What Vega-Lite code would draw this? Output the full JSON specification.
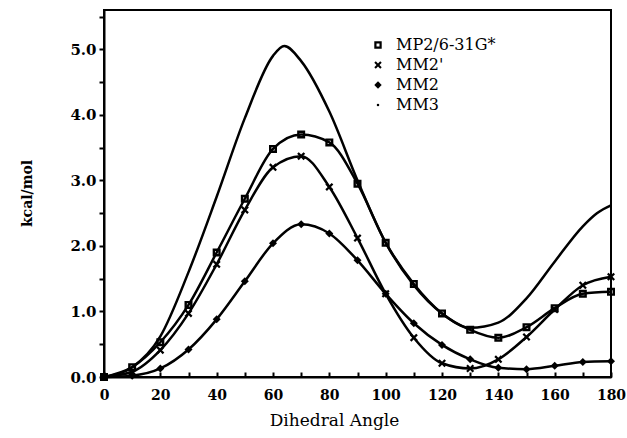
{
  "$schema": "https://vega.github.io/schema/vega-lite/v6.json",
  "width": 507,
  "height": 367,
  "autosize": {"type": "none"},
  "padding": {"left": 104, "top": 10, "right": 16, "bottom": 61},
  "background": "white",
  "config": {
    "view": {"stroke": "black", "strokeWidth": 2},
    "font": "DejaVu Serif",
    "axis": {"grid": false, "domainColor": "black", "domainWidth": 2, "tickColor": "black", "tickWidth": 2, "labelColor": "black", "titleColor": "black"}
  },
  "data": {
    "values": [
      {"series": "MP2/6-31G*", "angle": 0, "energy": 0},
      {"series": "MP2/6-31G*", "angle": 10, "energy": 0.15},
      {"series": "MP2/6-31G*", "angle": 20, "energy": 0.53},
      {"series": "MP2/6-31G*", "angle": 30, "energy": 1.1},
      {"series": "MP2/6-31G*", "angle": 40, "energy": 1.9},
      {"series": "MP2/6-31G*", "angle": 50, "energy": 2.72},
      {"series": "MP2/6-31G*", "angle": 60, "energy": 3.48},
      {"series": "MP2/6-31G*", "angle": 70, "energy": 3.7},
      {"series": "MP2/6-31G*", "angle": 80, "energy": 3.58},
      {"series": "MP2/6-31G*", "angle": 90, "energy": 2.95},
      {"series": "MP2/6-31G*", "angle": 100, "energy": 2.05},
      {"series": "MP2/6-31G*", "angle": 110, "energy": 1.42},
      {"series": "MP2/6-31G*", "angle": 120, "energy": 0.97},
      {"series": "MP2/6-31G*", "angle": 130, "energy": 0.72},
      {"series": "MP2/6-31G*", "angle": 140, "energy": 0.6},
      {"series": "MP2/6-31G*", "angle": 150, "energy": 0.76},
      {"series": "MP2/6-31G*", "angle": 160, "energy": 1.05},
      {"series": "MP2/6-31G*", "angle": 170, "energy": 1.27},
      {"series": "MP2/6-31G*", "angle": 180, "energy": 1.3},
      {"series": "MM2'", "angle": 0, "energy": 0},
      {"series": "MM2'", "angle": 10, "energy": 0.08},
      {"series": "MM2'", "angle": 20, "energy": 0.41},
      {"series": "MM2'", "angle": 30, "energy": 0.97},
      {"series": "MM2'", "angle": 40, "energy": 1.72},
      {"series": "MM2'", "angle": 50, "energy": 2.55},
      {"series": "MM2'", "angle": 60, "energy": 3.2},
      {"series": "MM2'", "angle": 70, "energy": 3.37},
      {"series": "MM2'", "angle": 80, "energy": 2.9},
      {"series": "MM2'", "angle": 90, "energy": 2.12},
      {"series": "MM2'", "angle": 100, "energy": 1.27},
      {"series": "MM2'", "angle": 110, "energy": 0.6},
      {"series": "MM2'", "angle": 120, "energy": 0.21},
      {"series": "MM2'", "angle": 130, "energy": 0.13},
      {"series": "MM2'", "angle": 140, "energy": 0.27},
      {"series": "MM2'", "angle": 150, "energy": 0.61},
      {"series": "MM2'", "angle": 160, "energy": 1.03},
      {"series": "MM2'", "angle": 170, "energy": 1.4},
      {"series": "MM2'", "angle": 180, "energy": 1.53},
      {"series": "MM2", "angle": 0, "energy": 0},
      {"series": "MM2", "angle": 10, "energy": 0.02},
      {"series": "MM2", "angle": 20, "energy": 0.13},
      {"series": "MM2", "angle": 30, "energy": 0.42},
      {"series": "MM2", "angle": 40, "energy": 0.88},
      {"series": "MM2", "angle": 50, "energy": 1.46},
      {"series": "MM2", "angle": 60, "energy": 2.04},
      {"series": "MM2", "angle": 70, "energy": 2.33},
      {"series": "MM2", "angle": 80, "energy": 2.19},
      {"series": "MM2", "angle": 90, "energy": 1.78},
      {"series": "MM2", "angle": 100, "energy": 1.27},
      {"series": "MM2", "angle": 110, "energy": 0.82},
      {"series": "MM2", "angle": 120, "energy": 0.49},
      {"series": "MM2", "angle": 130, "energy": 0.27},
      {"series": "MM2", "angle": 140, "energy": 0.14},
      {"series": "MM2", "angle": 150, "energy": 0.12},
      {"series": "MM2", "angle": 160, "energy": 0.17},
      {"series": "MM2", "angle": 170, "energy": 0.23},
      {"series": "MM2", "angle": 180, "energy": 0.24},
      {"series": "MM3", "angle": 0, "energy": 0},
      {"series": "MM3", "angle": 10, "energy": 0.15},
      {"series": "MM3", "angle": 20, "energy": 0.62},
      {"series": "MM3", "angle": 30, "energy": 1.6},
      {"series": "MM3", "angle": 40, "energy": 2.75},
      {"series": "MM3", "angle": 50, "energy": 3.95},
      {"series": "MM3", "angle": 60, "energy": 4.9},
      {"series": "MM3", "angle": 64, "energy": 5.05},
      {"series": "MM3", "angle": 70, "energy": 4.82},
      {"series": "MM3", "angle": 80, "energy": 4.05},
      {"series": "MM3", "angle": 90, "energy": 3.0},
      {"series": "MM3", "angle": 100, "energy": 2.05},
      {"series": "MM3", "angle": 110, "energy": 1.4},
      {"series": "MM3", "angle": 120, "energy": 0.97},
      {"series": "MM3", "angle": 130, "energy": 0.75},
      {"series": "MM3", "angle": 140, "energy": 0.83},
      {"series": "MM3", "angle": 150, "energy": 1.2},
      {"series": "MM3", "angle": 160, "energy": 1.76},
      {"series": "MM3", "angle": 170, "energy": 2.3},
      {"series": "MM3", "angle": 175, "energy": 2.5},
      {"series": "MM3", "angle": 180, "energy": 2.62}
    ]
  },
  "encoding": {
    "x": {
      "field": "angle", "type": "quantitative",
      "scale": {"domain": [0, 180], "nice": false, "zero": false},
      "axis": {
        "title": "Dihedral Angle",
        "titleFont": "DejaVu Serif", "titleFontSize": 17, "titleFontWeight": "normal",
        "titleX": 230, "titleY": 48, "titleBaseline": "alphabetic",
        "values": [0, 10, 20, 30, 40, 50, 60, 70, 80, 90, 100, 110, 120, 130, 140, 150, 160, 170, 180],
        "labelExpr": "datum.value % 20 == 0 ? datum.label : ''",
        "labelFont": "DejaVu Serif", "labelFontSize": 14, "labelFontWeight": "bold",
        "tickSize": -5, "labelPadding": 16, "labelFlush": false
      }
    },
    "y": {
      "field": "energy", "type": "quantitative",
      "scale": {"domain": [0, 5.6], "nice": false},
      "axis": {
        "title": "kcal/mol",
        "titleFont": "DejaVu Serif", "titleFontSize": 14, "titleFontWeight": "bold",
        "titleX": -70, "titleY": 183, "titleAngle": -90, "titleAnchor": "middle",
        "values": [0, 0.5, 1, 1.5, 2, 2.5, 3, 3.5, 4, 4.5, 5, 5.5],
        "labelExpr": "datum.value % 1 == 0 ? format(datum.value, '.1f') : ''",
        "labelFont": "DejaVu Serif", "labelFontSize": 15, "labelFontWeight": "bold",
        "tickSize": 5, "labelPadding": 3, "labelFlush": false
      }
    }
  },
  "layer": [
    {
      "mark": {"type": "line", "color": "black", "strokeWidth": 2.5, "interpolate": "monotone"},
      "encoding": {"detail": {"field": "series"}}
    },
    {
      "transform": [{"filter": "datum.series != 'MM3'"}],
      "mark": {"type": "point", "filled": true, "color": "black", "size": 64, "strokeWidth": 0, "opacity": 1},
      "encoding": {
        "shape": {
          "field": "series", "type": "nominal",
          "scale": {
            "domain": ["MP2/6-31G*", "MM2'", "MM2", "MM3"],
            "range": [
              "M-1,-1H1V1H-1Z M-0.4,-0.4V0.4H0.4V-0.4Z",
              "M-1,-0.6L-0.6,-1L0,-0.4L0.6,-1L1,-0.6L0.4,0L1,0.6L0.6,1L0,0.4L-0.6,1L-1,0.6L-0.4,0Z",
              "diamond",
              "M-0.3,-0.3H0.3V0.3H-0.3Z"
            ]
          },
          "legend": {
            "title": null, "orient": "none", "legendX": 266, "legendY": 27,
            "labelFont": "DejaVu Serif", "labelFontSize": 16, "labelColor": "black",
            "symbolSize": 55, "symbolFillColor": "black", "symbolStrokeWidth": 0,
            "rowPadding": 4, "labelOffset": 10, "symbolOffset": 0
          }
        }
      }
    }
  ]
}
